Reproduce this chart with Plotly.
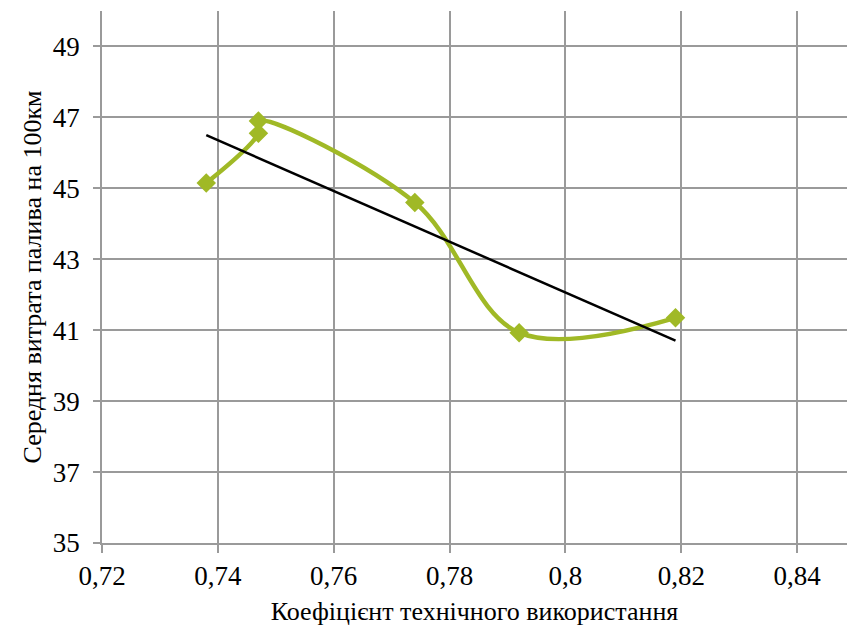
import numpy as np
import plotly.graph_objects as go

# Коефіцієнт технічного використання vs середня витрата палива
ktv = [0.738, 0.747, 0.747, 0.774, 0.792, 0.819]
fuel = [45.15, 46.55, 46.9, 44.6, 40.93, 41.35]

x_ticks = [0.72, 0.74, 0.76, 0.78, 0.80, 0.82, 0.84]
y_ticks = [35, 37, 39, 41, 43, 45, 47, 49]

# linear trend over the measured points
slope, intercept = np.polyfit(ktv, fuel, 1)
trend_x = [min(ktv), max(ktv)]
trend_y = [slope * v + intercept for v in trend_x]

green = "#a0b926"
grid = "#9a9a9a"
font_family = "Times New Roman, Liberation Serif, DejaVu Serif, serif"
tick_font = dict(family=font_family, size=27, color="black")

fig = go.Figure()
fig.add_trace(go.Scatter(
    x=ktv, y=fuel, mode="lines+markers",
    line=dict(color=green, width=4.5, shape="spline", smoothing=1.0),
    marker=dict(symbol="diamond", size=15, color=green),
    showlegend=False,
))
fig.add_trace(go.Scatter(
    x=trend_x, y=trend_y, mode="lines",
    line=dict(color="black", width=2.5),
    showlegend=False,
))

fig.update_layout(
    width=847, height=628,
    margin=dict(l=102, r=0, t=11, b=85),
    paper_bgcolor="white", plot_bgcolor="white",
    separators=", ",
    font=dict(family=font_family, size=26, color="black"),
)
fig.update_xaxes(
    range=[0.72, 0.8486], tickvals=x_ticks,
    ticktext=[f"{v:g}".replace(".", ",") for v in x_ticks],
    tickfont=tick_font,
    showgrid=True, gridcolor=grid, gridwidth=1.5,
    showline=True, linecolor=grid, linewidth=1.5,
    ticks="outside", ticklen=8, tickcolor=grid, tickwidth=1.5,
    zeroline=False,
    title=dict(text="Коефіцієнт технічного використання", standoff=12,
               font=dict(family=font_family, size=26, color="black")),
)
fig.update_yaxes(
    range=[35, 50], tickvals=y_ticks,
    tickfont=tick_font, ticklabelstandoff=8,
    showgrid=True, gridcolor=grid, gridwidth=1.5,
    showline=True, linecolor=grid, linewidth=1.5,
    ticks="outside", ticklen=7, tickcolor=grid, tickwidth=1.5,
    zeroline=False,
    title=dict(text="Середня витрата палива на 100км", standoff=4,
               font=dict(family=font_family, size=26, color="black")),
)

fig.write_html("out.html")
